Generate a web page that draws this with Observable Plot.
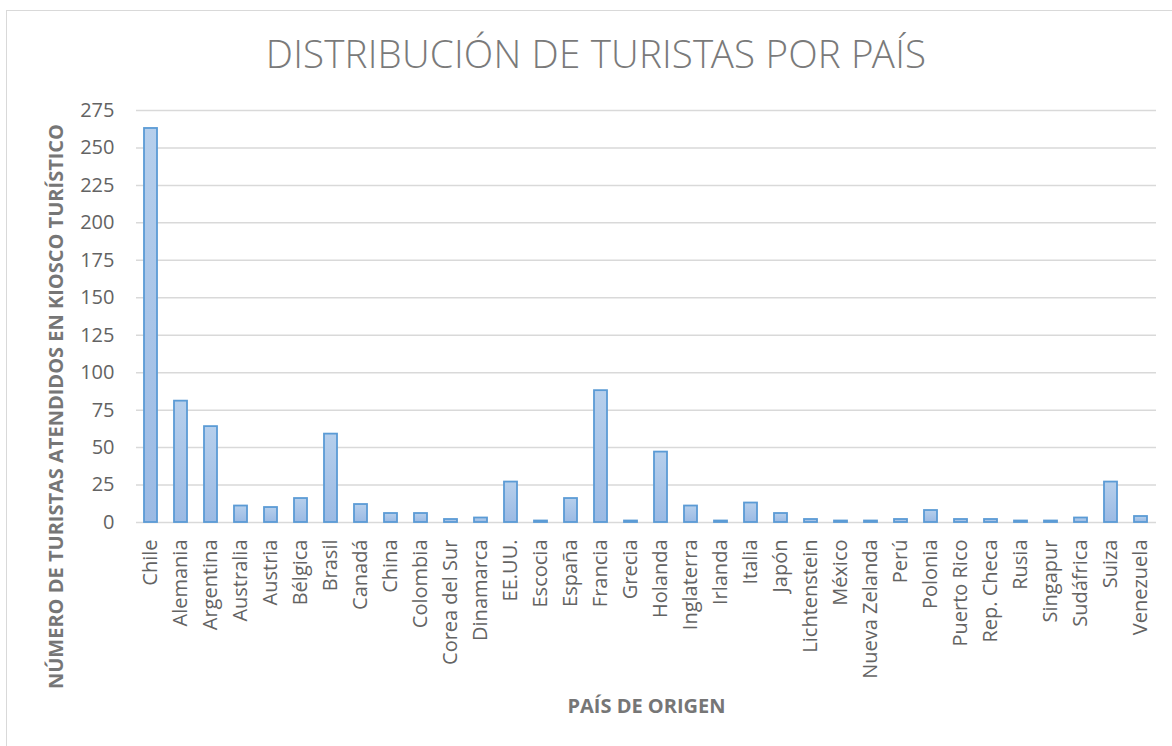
<!DOCTYPE html>
<html>
<head>
<meta charset="utf-8">
<script src="https://cdn.jsdelivr.net/npm/d3@7"></script>
<script src="https://cdn.jsdelivr.net/npm/@observablehq/plot@0.6"></script>
<style>
  body { margin: 0; background: #ffffff; width: 1172px; height: 746px; overflow: hidden; position: relative; }
  #frame { position: absolute; left: 6px; top: 10px; width: 1200px; height: 800px; border: 1.5px solid #d9d9d9; box-sizing: border-box; }
  #title { position: absolute; left: 10px; top: 34px; width: 1172px; text-align: center; font-family: "Open Sans Light", "Open Sans", sans-serif; font-weight: 300; font-size: 38.5px; line-height: 38px; color: #7a7a7a; white-space: nowrap; letter-spacing: 0.2px; }
  #chart { position: absolute; left: 0; top: 90px; }
</style>
</head>
<body>
<div id="frame"></div>
<div id="title">DISTRIBUCIÓN DE TURISTAS POR PAÍS</div>
<div id="chart"></div>
<script>
const countries = ["Chile","Alemania","Argentina","Australia","Austria","Bélgica","Brasil","Canadá","China","Colombia","Corea del Sur","Dinamarca","EE.UU.","Escocia","España","Francia","Grecia","Holanda","Inglaterra","Irlanda","Italia","Japón","Lichtenstein","México","Nueva Zelanda","Perú","Polonia","Puerto Rico","Rep. Checa","Rusia","Singapur","Sudáfrica","Suiza","Venezuela"];
const tourists = [263,81,64,11,10,16,59,12,6,6,2,3,27,1,16,88,1,47,11,1,13,6,2,1,1,2,8,2,2,1,1,3,27,4];
const yTicks = [0,25,50,75,100,125,150,175,200,225,250,275];
const yTitle = "NÚMERO DE TURISTAS ATENDIDOS EN KIOSCO TURÍSTICO";
const xTitle = "PAÍS DE ORIGEN";

const data = countries.map((c, i) => ({pais: c, turistas: tourists[i]}));

const chart = Plot.plot({
  width: 1172,
  height: 656,
  marginTop: 20,
  marginBottom: 224,
  marginLeft: 136,
  marginRight: 16,
  style: {fontFamily: "'Open Sans', sans-serif", fontSize: "20px", color: "#636363", background: "transparent", overflow: "visible"},
  x: {domain: countries, paddingInner: 0.55, paddingOuter: 0.275, tickRotate: -90, tickSize: 0, tickPadding: 17, label: null},
  y: {domain: [0, 275], ticks: yTicks, tickSize: 0, tickPadding: 22, label: null},
  marks: [
    Plot.gridY(yTicks, {stroke: "#d9d9d9", strokeWidth: 1.5, strokeOpacity: 1}),
    Plot.barY(data, {x: "pais", y: "turistas", fill: "url(#barGrad)", stroke: "#5b9bd5", strokeWidth: 1.8}),
    Plot.text([yTitle], {text: d => d, frameAnchor: "left", rotate: -90, dx: -80, dy: 90, textAnchor: "middle", lineAnchor: "middle", fontWeight: "bold", fontSize: 20, fill: "#767676"}),
    Plot.text([xTitle], {text: d => d, frameAnchor: "bottom", dy: 184, textAnchor: "middle", lineAnchor: "middle", fontWeight: "bold", fontSize: 20, fill: "#767676"})
  ]
});

const svg = d3.select(chart);
const grad = svg.insert("defs", ":first-child").append("linearGradient")
  .attr("id", "barGrad").attr("x1", 0).attr("y1", 0).attr("x2", 0).attr("y2", 1);
grad.append("stop").attr("offset", "0%").attr("stop-color", "#b6cfec");
grad.append("stop").attr("offset", "100%").attr("stop-color", "#9bbae4");

document.getElementById("chart").appendChild(chart);
</script>
</body>
</html>
